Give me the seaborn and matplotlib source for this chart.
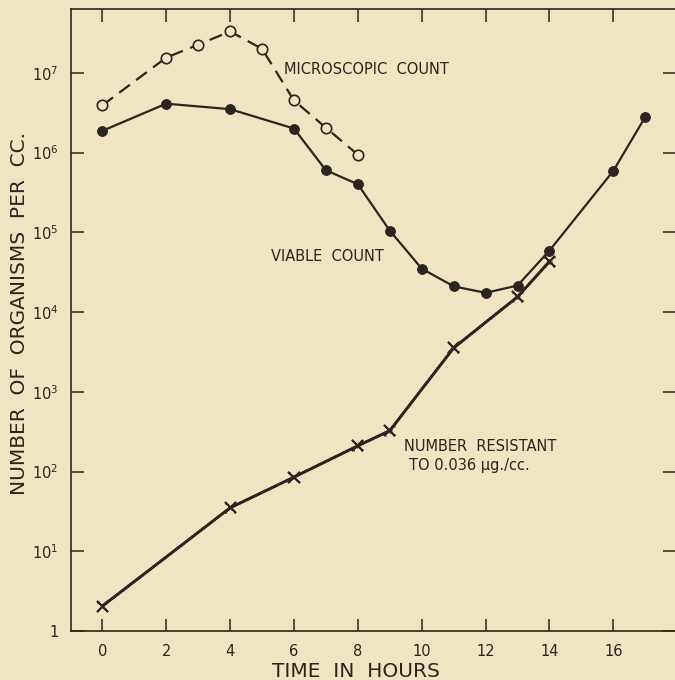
import matplotlib
matplotlib.use("Agg")
import matplotlib.pyplot as plt
import matplotlib.patheffects as pe
from matplotlib.ticker import FixedLocator, NullLocator
import seaborn as sns
import pandas as pd

# data (time in hours, organisms per cc)
micro_hours = [0, 2, 3, 4, 5, 6, 7, 8]
micro_count = [3.9e6, 1.55e7, 2.25e7, 3.3e7, 2.0e7, 4.5e6, 2.05e6, 9.4e5]

viable_hours = [0, 2, 4, 6, 7, 8, 9, 10, 11, 12, 13, 14, 16, 17]
viable_count = [1.87e6, 4.1e6, 3.5e6, 2.0e6, 6.0e5, 4.0e5, 1.05e5, 3.5e4,
                2.1e4, 1.74e4, 2.15e4, 5.9e4, 5.9e5, 2.8e6]

resist_hours = [0, 4, 6, 8, 9, 11, 13, 14]
resist_count = [2.05, 35, 85, 210, 325, 3550, 1.55e4, 4.3e4]

x_ticks = [0, 2, 4, 6, 8, 10, 12, 14, 16]
y_ticks = [1, 1e1, 1e2, 1e3, 1e4, 1e5, 1e6, 1e7]
y_tick_labels = ["1", "$10^{1}$", "$10^{2}$", "$10^{3}$", "$10^{4}$",
                 "$10^{5}$", "$10^{6}$", "$10^{7}$"]

bg = "#f0e5c3"
ink = "#2a251e"

sns.set_theme(style="ticks")
plt.rcParams["font.family"] = ["DejaVu Sans"]
plt.rcParams["figure.facecolor"] = bg
plt.rcParams["axes.facecolor"] = bg

fig = plt.figure(figsize=(6.75, 6.8), dpi=100)
ax = fig.add_axes([71 / 675, 49 / 680, 604 / 675, 622 / 680])

micro = pd.DataFrame({"hours": micro_hours, "count": micro_count})
viable = pd.DataFrame({"hours": viable_hours, "count": viable_count})
resist = pd.DataFrame({"hours": resist_hours, "count": resist_count})

sns.lineplot(data=micro, x="hours", y="count", ax=ax, color=ink, lw=1.6,
             linestyle=(0, (6, 3.5)), marker="o", markersize=7.5,
             markerfacecolor=bg, markeredgecolor=ink, markeredgewidth=1.2,
             estimator=None, sort=False)
sns.lineplot(data=viable, x="hours", y="count", ax=ax, color=ink, lw=1.6,
             marker="o", markersize=7, markerfacecolor=ink,
             markeredgecolor=ink, estimator=None, sort=False)
sns.lineplot(data=resist, x="hours", y="count", ax=ax, color=ink, lw=1.9,
             marker="x", markersize=8, markeredgewidth=1.4,
             markeredgecolor=ink, estimator=None, sort=False,
             path_effects=[pe.withTickedStroke(spacing=2.5, angle=90, length=0.3,
                                               linewidth=0.7),
                           pe.withTickedStroke(spacing=2.5, angle=-90, length=0.3,
                                               linewidth=0.7)])

ax.set_yscale("log")
ax.set_xlim(-0.98, 17.93)
ax.set_ylim(1, 10 ** 7.8)
ax.xaxis.set_major_locator(FixedLocator(x_ticks))
ax.set_xticklabels([str(t) for t in x_ticks])
ax.yaxis.set_major_locator(FixedLocator(y_ticks))
ax.yaxis.set_minor_locator(NullLocator())
ax.set_yticklabels(y_tick_labels)

ax.tick_params(axis="both", which="major", direction="in", length=9,
               width=1.1, color=ink, labelcolor=ink, labelsize=10.5,
               top=True, right=True, pad=9)
for side in ["left", "top", "bottom"]:
    ax.spines[side].set_color(ink)
    ax.spines[side].set_linewidth(1.2)
ax.spines["right"].set_visible(False)

ax.set_xlabel("TIME  IN  HOURS", fontsize=14.5, color=ink)
ax.xaxis.set_label_coords(0.472, -0.05)
ax.xaxis.label.set_va("top")
ax.set_ylabel("NUMBER  OF  ORGANISMS  PER  CC.", fontsize=14.5, color=ink)
ax.yaxis.set_label_coords(-0.07, 0.51)

ax.text(5.70, 10 ** 7.04, "MICROSCOPIC  COUNT", fontsize=10.5, color=ink,
        ha="left", va="center")
ax.text(5.29, 10 ** 4.70, "VIABLE  COUNT", fontsize=10.5, color=ink,
        ha="left", va="center")
ax.text(9.45, 10 ** 2.31, "NUMBER  RESISTANT", fontsize=10.5, color=ink,
        ha="left", va="center")
ax.text(9.61, 10 ** 2.07, "TO 0.036 µg./cc.", fontsize=10.5, color=ink,
        ha="left", va="center")

fig.savefig("out.png", dpi=100, facecolor=bg)
